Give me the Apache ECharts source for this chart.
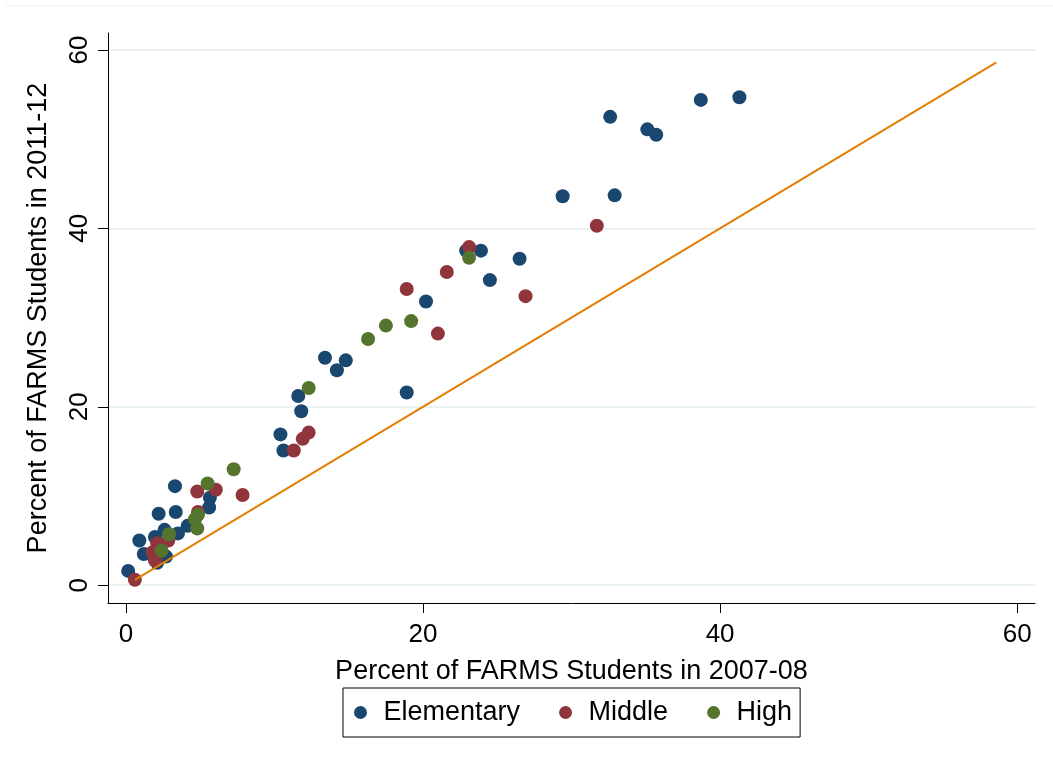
<!DOCTYPE html>
<html>
<head>
<meta charset="utf-8">
<script src="https://cdn.jsdelivr.net/npm/echarts@6/dist/echarts.min.js"></script>
<style>
  html, body { margin: 0; padding: 0; background: #fff; }
  #chart { width: 1053px; height: 773px; }
</style>
</head>
<body>
<div id="chart"></div>
<script>
// percent FARMS 2007-08 (x) vs 2011-12 (y)
var elementary = [
  [41.3, 54.7], [38.7, 54.4], [32.6, 52.5], [35.1, 51.1], [35.7, 50.5],
  [29.4, 43.6], [32.9, 43.7], [22.9, 37.5], [23.9, 37.5], [26.5, 36.6],
  [24.5, 34.2], [20.2, 31.8], [18.9, 21.6], [13.4, 25.5], [14.8, 25.2],
  [14.2, 24.1], [11.6, 21.2], [11.8, 19.5], [10.4, 16.9], [10.6, 15.1],
  [3.3, 11.1], [5.65, 9.8], [5.6, 8.7], [2.2, 8.0], [3.35, 8.2],
  [4.15, 6.65], [2.6, 6.2], [3.5, 5.8], [1.95, 5.4], [0.9, 5.0],
  [1.2, 3.5], [2.7, 3.2], [2.1, 2.5], [0.15, 1.6]
];
var middle = [
  [0.6, 0.6], [1.8, 3.7], [1.95, 2.8], [2.1, 4.7], [2.85, 5.0],
  [4.85, 8.2], [4.8, 10.5], [6.05, 10.7], [7.85, 10.1], [11.3, 15.1],
  [11.9, 16.4], [12.3, 17.1], [18.9, 33.2], [21.0, 28.2], [21.6, 35.1],
  [23.1, 37.9], [26.9, 32.4], [31.7, 40.3]
];
var high = [
  [2.4, 3.85], [2.9, 5.7], [4.65, 7.4], [4.85, 7.9], [4.8, 6.35],
  [5.5, 11.4], [7.25, 13.0], [12.3, 22.1], [16.3, 27.6], [17.5, 29.1],
  [19.2, 29.6], [23.1, 36.7]
];
// 45 degree reference line
var refLine = [[0.6, 0.6], [58.6, 58.6]];
var ticks = [0, 20, 40, 60];

var font = '"Liberation Sans", Arial, sans-serif';
var chart = echarts.init(document.getElementById('chart'));

function dots(name, data, color) {
  return {
    name: name,
    type: 'scatter',
    data: data,
    symbolSize: 14,
    itemStyle: { color: color, opacity: 1 },
    emphasis: { disabled: true }
  };
}

chart.setOption({
  animation: false,
  backgroundColor: '#ffffff',
  textStyle: { fontFamily: font },
  grid: { left: 108, right: 18, top: 33, bottom: 170 },
  graphic: [{
    type: 'line',
    shape: { x1: 5, y1: 6, x2: 1053, y2: 6 },
    style: { stroke: '#eef1f2', lineWidth: 1 },
    silent: true
  }],
  xAxis: {
    type: 'value',
    min: -1.21,
    max: 61.2,
    name: 'Percent of FARMS Students in 2007-08',
    nameLocation: 'middle',
    nameGap: 55,
    nameTextStyle: { fontSize: 27, color: '#000', fontFamily: font },
    axisLine: { onZero: false, lineStyle: { color: '#000', width: 1 } },
    axisTick: { show: true, customValues: ticks, length: 10, lineStyle: { color: '#000' } },
    axisLabel: { customValues: ticks, fontSize: 26, color: '#000', margin: 19, fontFamily: font },
    splitLine: { show: false }
  },
  yAxis: {
    type: 'value',
    min: -2.0,
    max: 61.9,
    name: 'Percent of FARMS Students in 2011-12',
    nameLocation: 'middle',
    nameGap: 56,
    nameTextStyle: { fontSize: 27, color: '#000', fontFamily: font },
    axisLine: { show: true, onZero: false, lineStyle: { color: '#000', width: 1 } },
    axisTick: { show: true, customValues: ticks, length: 10, lineStyle: { color: '#000' } },
    axisLabel: { customValues: ticks, rotate: 90, fontSize: 26, color: '#000', margin: 15, fontFamily: font },
    splitLine: { show: true, lineStyle: { color: '#eaf2f3', width: 2 } }
  },
  legend: {
    data: ['Elementary', 'Middle', 'High'],
    left: 343,
    top: 688,
    padding: [11, 8, 11, 11],
    itemGap: 39,
    itemWidth: 36,
    itemHeight: 13,
    icon: 'circle',
    borderColor: '#000',
    borderWidth: 1,
    borderRadius: 0,
    textStyle: { fontSize: 27, color: '#000', fontFamily: font }
  },
  series: [
    dots('Elementary', elementary, '#1a476f'),
    dots('Middle', middle, '#90353b'),
    dots('High', high, '#55752f'),
    {
      name: 'ref',
      type: 'line',
      data: refLine,
      symbol: 'none',
      lineStyle: { color: '#e37e00', width: 2 },
      itemStyle: { color: '#e37e00' },
      emphasis: { disabled: true },
      z: 5
    }
  ]
});
</script>
</body>
</html>
